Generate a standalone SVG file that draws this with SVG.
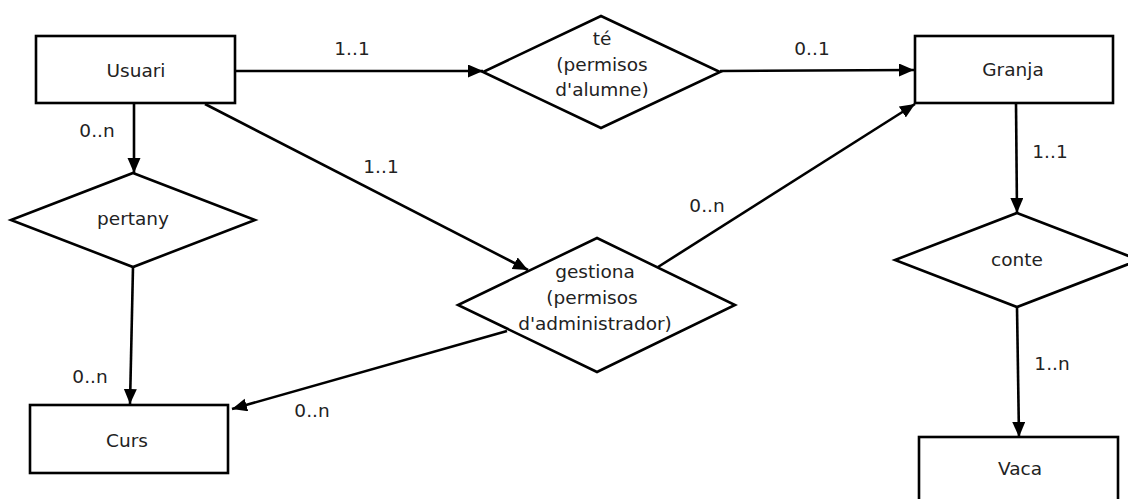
<svg xmlns="http://www.w3.org/2000/svg" width="1128" height="499" viewBox="0 0 1128 499">
<style>
.box{fill:#fff;stroke:#000;stroke-width:2.6}
.conn{fill:none;stroke:#000;stroke-width:2.6}
text{font-family:"DejaVu Sans",sans-serif;font-size:18.5px;fill:#222;text-anchor:middle}
</style>
<defs>
<marker id="arr" markerUnits="userSpaceOnUse" markerWidth="16" markerHeight="14" refX="15" refY="6.5" orient="auto">
<path d="M0,0 L15,6.5 L0,13 z" fill="#000"/>
</marker>
</defs>
<rect width="1128" height="499" fill="#fff"/>
<g id="connectors">
<line class="conn" x1="235" y1="71" x2="483" y2="71" marker-end="url(#arr)"/>
<line class="conn" x1="720" y1="71" x2="914" y2="70" marker-end="url(#arr)"/>
<line class="conn" x1="134" y1="103" x2="134" y2="173" marker-end="url(#arr)"/>
<line class="conn" x1="133" y1="267" x2="130" y2="404" marker-end="url(#arr)"/>
<line class="conn" x1="205" y1="104" x2="528" y2="270" marker-end="url(#arr)"/>
<line class="conn" x1="658" y1="267" x2="915" y2="104" marker-end="url(#arr)"/>
<line class="conn" x1="507" y1="331" x2="232" y2="409" marker-end="url(#arr)"/>
<line class="conn" x1="1016" y1="103" x2="1017" y2="213" marker-end="url(#arr)"/>
<line class="conn" x1="1017" y1="307" x2="1019" y2="437" marker-end="url(#arr)"/>
<text x="352" y="55">1..1</text>
<text x="812" y="55">0..1</text>
<text x="97" y="137">0..n</text>
<text x="381" y="173">1..1</text>
<text x="707" y="212">0..n</text>
<text x="1050" y="158">1..1</text>
<text x="1052" y="370">1..n</text>
<text x="90" y="383">0..n</text>
<text x="312" y="417">0..n</text>
</g>
<g id="usuari">
<rect class="box" x="36" y="36" width="199" height="67"/>
<text x="136" y="77">Usuari</text>
</g>
<g id="granja">
<rect class="box" x="915" y="36" width="198" height="67"/>
<text x="1013" y="76">Granja</text>
</g>
<g id="curs">
<rect class="box" x="30" y="405" width="198" height="68"/>
<text x="127" y="447">Curs</text>
</g>
<g id="vaca">
<rect class="box" x="919" y="437" width="199" height="67"/>
<text x="1020" y="475">Vaca</text>
</g>
<g id="te">
<polygon class="box" points="601,16 720,72 601,128 483,72"/>
<text x="602" y="45">té</text>
<text x="602" y="71">(permisos</text>
<text x="602" y="96">d'alumne)</text>
</g>
<g id="pertany">
<polygon class="box" points="133,173 255,220 133,267 11,220"/>
<text x="133" y="225">pertany</text>
</g>
<g id="gestiona">
<polygon class="box" points="597,238 735,305 597,372 458,305"/>
<text x="595" y="278">gestiona</text>
<text x="592" y="304">(permisos</text>
<text x="595" y="330">d'administrador)</text>
</g>
<g id="conte">
<polygon class="box" points="1017,213 1139,260 1017,307 895,260"/>
<text x="1017" y="266">conte</text>
</g>
</svg>
